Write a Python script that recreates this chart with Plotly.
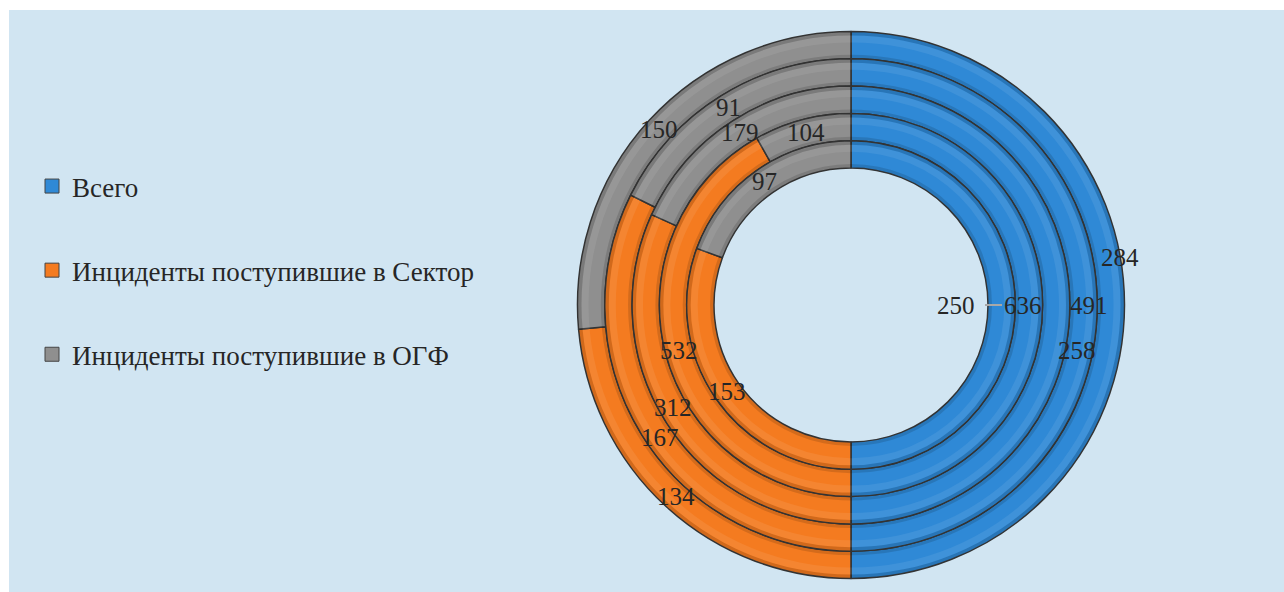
import math
import plotly.graph_objects as go

# ---------------- data (rings from outer to inner) ----------------
series_names = ["Всего", "Инциденты поступившие в Сектор", "Инциденты поступившие в ОГФ"]
vsego = [284, 258, 491, 636, 250]
sektor = [134, 167, 312, 532, 153]
ogf = [150, 91, 179, 104, 97]

# ---------------- layout / style ----------------
W, H = 1284, 592
CX, CY = 851, 305
R_OUT = 273.5
RING_W = 27.3
colors = ["#2F89D6", "#F47B20", "#8F8F8F"]
line_col = "#333333"
bg_col = "#D1E5F2"
txt_col = "#262626"
FONT = "Liberation Serif"

# label nudges (degrees, px) keyed by (ring, slice) to untangle crowded labels
nudge = {(0, 0): (-10, 13), (1, 0): (11.5, -2), (2, 0): (0, 33), (3, 0): (0, -6), (4, 0): (0, -46),
         (1, 1): (-3, 0), (2, 1): (3, 0)}

fig = go.Figure()

rings = list(zip(vsego, sektor, ogf))
annotations = []
shapes = [dict(type="rect", xref="paper", yref="paper", x0=9 / W, x1=1, y0=0, y1=1 - 10 / H,
               fillcolor=bg_col, line=dict(width=0), layer="below")]


def to_paper(r, theta_deg):
    t = math.radians(theta_deg)
    x = CX + r * math.sin(t)
    y = CY - r * math.cos(t)
    return x / W, 1 - y / H


def dom(R):
    return dict(x=[(CX - R) / W, (CX + R) / W], y=[(H - CY - R) / H, (H - CY + R) / H])


def band(r_out, r_in, color):
    # thin translucent full ring used for the bevel-like shading
    fig.add_trace(go.Pie(values=[1], labels=["_"], hole=r_in / r_out, textinfo="none",
                         hoverinfo="skip", showlegend=False, sort=False,
                         marker=dict(colors=[color], line=dict(width=0)), domain=dom(r_out)))


for i, vals in enumerate(rings):
    R = R_OUT - i * RING_W
    hole = (R - RING_W) / R
    fig.add_trace(go.Pie(
        values=list(vals), labels=series_names, sort=False, direction="clockwise", rotation=0,
        hole=hole, textinfo="none", hoverinfo="label+value", showlegend=False,
        marker=dict(colors=colors, line=dict(color=line_col, width=1.5)),
        domain=dom(R),
    ))

# shading bands on every ring (drawn above the slices)
for i in range(len(rings)):
    R = R_OUT - i * RING_W
    band(R - 0.8, R - 4, "rgba(0,0,0,0.14)")
    band(R - 4, R - 11, "rgba(255,255,255,0.08)")
    band(R - RING_W + 4, R - RING_W + 0.8, "rgba(0,0,0,0.13)")

for i, vals in enumerate(rings):
    R = R_OUT - i * RING_W
    total = sum(vals)
    start = 0
    for j, v in enumerate(vals):
        mid = (start + v / 2) / total * 360
        start += v
        r = R - RING_W / 2
        dth, dr = nudge.get((i, j), (0, 0))
        mid += dth
        r += dr
        x, y = to_paper(r, mid)
        annotations.append(dict(x=x, y=y, xref="paper", yref="paper", text=str(v), showarrow=False,
                                xanchor="center", yanchor="middle",
                                font=dict(family=FONT, size=25, color=txt_col)))
        if i == len(rings) - 1 and j == 0:
            R_in = R - RING_W
            x0, y0 = to_paper(R_in - 3, mid)
            x1, y1 = to_paper(R_in + 14, mid)
            shapes.append(dict(type="line", xref="paper", yref="paper", x0=x0, y0=y0, x1=x1, y1=y1,
                               line=dict(color="#A8A8A8", width=2)))

# legend entries
for k, name in enumerate(series_names):
    fig.add_trace(go.Scatter(
        x=[None], y=[None], mode="markers", name=name, legendgroup=f"g{k}",
        marker=dict(symbol="square", size=14, color=colors[k], line=dict(color="#444", width=1)),
    ))

fig.update_layout(
    width=W, height=H,
    margin=dict(l=0, r=0, t=0, b=0),
    paper_bgcolor="white",
    plot_bgcolor="rgba(0,0,0,0)",
    xaxis=dict(visible=False), yaxis=dict(visible=False),
    annotations=annotations, shapes=shapes,
    legend=dict(x=32 / W, xanchor="left", y=1 - 162 / H, yanchor="top",
                font=dict(family=FONT, size=27, color=txt_col),
                bgcolor="rgba(0,0,0,0)", tracegroupgap=46, itemwidth=30),
    font=dict(family=FONT),
)

fig.write_html("out.html")
